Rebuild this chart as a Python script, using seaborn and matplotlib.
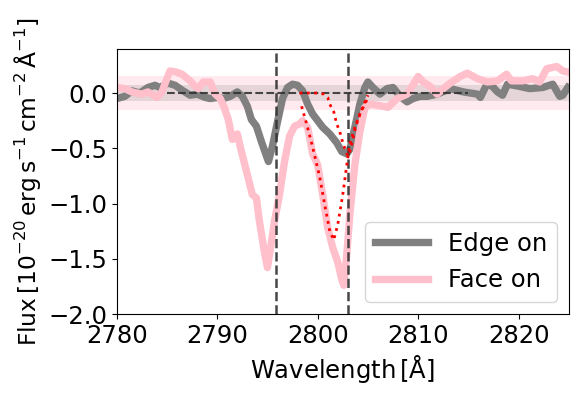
import numpy as np
import pandas as pd
import matplotlib
matplotlib.use("Agg")
import matplotlib.pyplot as plt
import seaborn as sns

# ---- data ----
edge_wl = [2780.0, 2780.8, 2781.5, 2782.3, 2783.1, 2783.8, 2784.3, 2785.1, 2785.8, 2786.6,
           2787.3, 2788.0, 2788.8, 2789.3, 2790.0, 2790.6, 2791.3, 2792.0, 2792.5, 2793.0,
           2793.4, 2793.9, 2794.4, 2794.9, 2795.1, 2795.5, 2796.0, 2796.5, 2797.0, 2797.5,
           2798.0, 2798.5, 2799.0, 2799.5, 2800.0, 2800.5, 2801.2, 2801.9, 2802.4, 2802.9,
           2803.2, 2803.7, 2804.2, 2804.7, 2805.0, 2805.5, 2806.2, 2806.9, 2807.5, 2808.2,
           2808.9, 2809.5, 2810.2, 2810.9, 2811.9, 2813.2, 2814.5, 2815.2, 2815.9, 2816.2,
           2816.9, 2817.5, 2817.9, 2818.4, 2818.9, 2820.1, 2821.1, 2822.4, 2823.4, 2824.1,
           2824.4, 2824.9]
edge_flux = [-0.05, -0.03, 0.02, 0.00, 0.05, 0.07, 0.05, 0.09, 0.07, 0.02,
             -0.02, -0.01, -0.04, -0.05, -0.04, -0.05, -0.03, 0.01, -0.03, -0.12,
             -0.24, -0.30, -0.44, -0.57, -0.62, -0.48, -0.26, -0.05, 0.05, 0.08,
             0.07, 0.02, -0.10, -0.19, -0.25, -0.31, -0.37, -0.45, -0.53, -0.55,
             -0.51, -0.31, -0.10, 0.05, 0.10, 0.05, -0.01, 0.04, 0.05, -0.03,
             -0.08, -0.05, -0.03, -0.03, -0.01, 0.04, 0.01, 0.00, -0.01, -0.04,
             0.09, 0.05, 0.01, -0.02, 0.08, 0.06, 0.04, 0.05, 0.08, -0.03,
             -0.02, 0.05]

face_wl = [2780.0, 2780.8, 2781.5, 2782.5, 2783.1, 2784.0, 2784.5, 2784.9, 2785.3, 2785.9,
           2786.5, 2787.3, 2787.8, 2788.1, 2788.6, 2789.3, 2789.8, 2790.3, 2790.7, 2791.1,
           2791.5, 2792.0, 2792.3, 2793.0, 2793.5, 2793.9, 2794.2, 2794.7, 2795.0, 2795.4,
           2795.7, 2796.2, 2796.7, 2797.2, 2797.7, 2798.2, 2798.5, 2799.0, 2799.5, 2800.0,
           2800.5, 2801.0, 2801.5, 2802.0, 2802.4, 2802.6, 2802.9, 2803.2, 2803.7, 2804.2,
           2804.7, 2805.2, 2805.9, 2807.0, 2807.9, 2808.9, 2809.4, 2810.0, 2810.5, 2811.2,
           2811.9, 2812.5, 2813.2, 2814.2, 2814.9, 2815.9, 2816.9, 2817.9, 2818.8, 2819.3,
           2820.4, 2821.4, 2822.1, 2822.8, 2823.8, 2824.4, 2824.9]
face_flux = [0.05, 0.04, 0.01, -0.01, 0.01, -0.04, 0.01, 0.11, 0.20, 0.19,
             0.17, 0.11, 0.06, 0.04, 0.10, 0.10, -0.01, -0.05, -0.13, -0.24,
             -0.42, -0.37, -0.49, -0.74, -0.92, -0.95, -1.16, -1.44, -1.58, -1.35,
             -1.16, -0.92, -0.62, -0.39, -0.30, -0.28, -0.25, -0.31, -0.55, -0.65,
             -0.92, -1.22, -1.40, -1.53, -1.69, -1.74, -1.46, -1.10, -0.65, -0.35,
             -0.13, -0.10, -0.11, -0.13, -0.05, -0.01, 0.06, 0.15, 0.10, 0.06,
             -0.01, 0.04, 0.09, 0.15, 0.18, 0.13, 0.10, 0.11, 0.17, 0.11,
             0.11, 0.13, 0.10, 0.22, 0.24, 0.20, 0.19]

modelA_wl = [2798.4, 2798.9, 2799.5, 2800.2, 2800.7, 2801.2, 2801.6, 2802.0, 2802.5,
             2802.9, 2803.2, 2803.7, 2804.2, 2804.7, 2805.0]
modelA_flux = [-0.12, -0.28, -0.49, -0.76, -1.01, -1.25, -1.33, -1.19, -0.92,
               -0.65, -0.46, -0.31, -0.19, -0.10, -0.04]

modelB_wl = [2798.2, 2798.7, 2799.2, 2799.7, 2800.2, 2800.6, 2801.0, 2801.2, 2801.6,
             2801.9, 2802.2, 2802.5, 2802.9, 2803.1, 2803.4, 2803.8, 2804.3, 2804.8, 2805.0]
modelB_flux = [0.0, 0.0, 0.0, 0.0, 0.0, -0.01, -0.04, -0.10, -0.17,
               -0.28, -0.35, -0.45, -0.55, -0.57, -0.46, -0.30, -0.17, -0.06, -0.02]

line_centres = [2795.9, 2803.0]
noise_face = 0.15
noise_edge = 0.07

# ---- figure ----
plt.rcParams['font.family'] = ['DejaVu Sans']
plt.rcParams['font.size'] = 17.5
fig = plt.figure(figsize=(5.81, 3.97), dpi=100)
ax = fig.add_axes([0.201, 0.209, 0.778, 0.668])

ax.axhspan(-noise_face, noise_face, color='pink', alpha=0.3, lw=0, zorder=0)
ax.axhspan(-noise_edge, noise_edge, color='grey', alpha=0.2, lw=0, zorder=0)

spec = pd.concat([
    pd.DataFrame({'wl': edge_wl, 'flux': edge_flux, 'kind': 'Edge on'}),
    pd.DataFrame({'wl': face_wl, 'flux': face_flux, 'kind': 'Face on'}),
])
sns.lineplot(data=spec, x='wl', y='flux', hue='kind',
             palette={'Edge on': 'grey', 'Face on': 'pink'},
             estimator=None, sort=False, lw=5.3, ax=ax, zorder=2)

sns.lineplot(x=modelA_wl, y=modelA_flux, color='red', ls=':', lw=2,
             estimator=None, sort=False, legend=False, ax=ax, zorder=4)
sns.lineplot(x=modelB_wl, y=modelB_flux, color='red', ls=':', lw=2,
             estimator=None, sort=False, legend=False, ax=ax, zorder=4)

for c in line_centres:
    ax.axvline(c, color='#333333', ls='--', lw=1.8, alpha=0.9, zorder=3)
ax.hlines(0, 2785, 2815, color='#333333', ls='--', lw=1.5, alpha=0.9, zorder=3)

ax.set_xlim(2780, 2825)
ax.set_ylim(-2.0, 0.4)
ax.set_xticks([2780, 2790, 2800, 2810, 2820])
ax.set_yticks([0.0, -0.5, -1.0, -1.5, -2.0])
ax.set_xlabel(r'Wavelength$\,[\mathrm{\AA}]$', fontsize=17.5)
ax.set_ylabel(r'Flux$\,[10^{-20}\,\mathrm{erg\,s^{-1}\,cm^{-2}\,\AA^{-1}}]$', fontsize=16.8)

leg = ax.legend(loc='lower right', fontsize=17.5, handlelength=2.2)
leg.set_title(None)
for h in leg.get_lines():
    h.set_linewidth(5.3)

fig.savefig('out.png', dpi=100)
